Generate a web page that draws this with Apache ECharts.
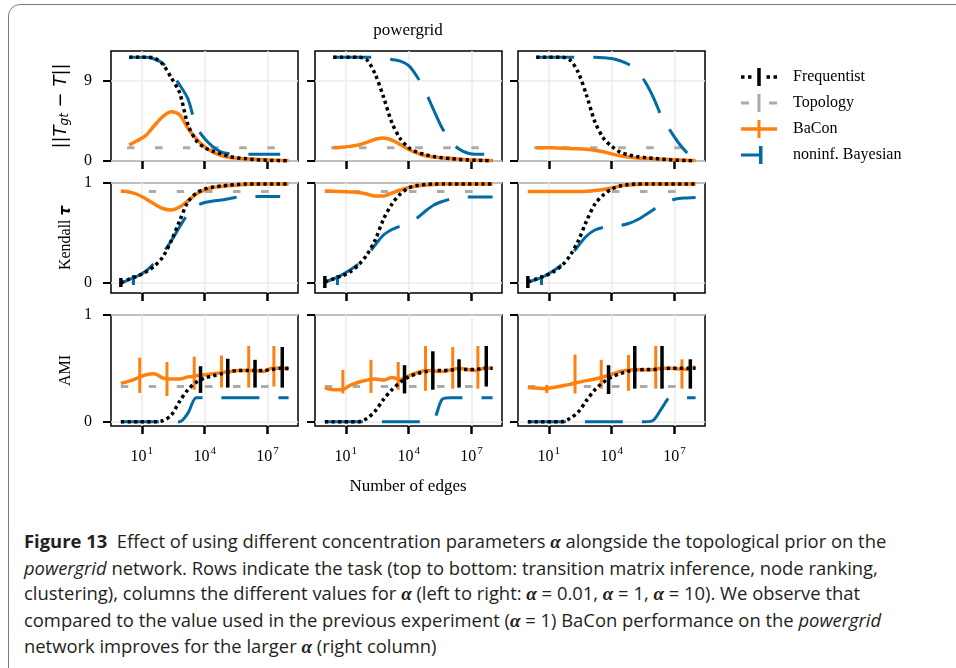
<!DOCTYPE html>
<html>
<head>
<meta charset="utf-8">
<script src="https://cdn.jsdelivr.net/npm/echarts@6/dist/echarts.min.js"></script>
<style>
html, body { margin: 0; padding: 0; background: #fff; width: 956px; height: 668px; overflow: hidden; }
#frame { position: absolute; left: 8px; top: 4px; width: 1000px; height: 700px; border: 1.5px solid #7a7a7a; border-radius: 12px; box-sizing: border-box; }
#chart { position: absolute; left: 0; top: 0; width: 956px; height: 505px; }
#caption { position: absolute; left: 24px; top: 528px; font-family: 'Open Sans', sans-serif; font-size: 18.4px; line-height: 25.6px; color: #231f20; white-space: nowrap; }
#caption .al { font-family: 'Liberation Serif', serif; font-style: italic; font-weight: bold; font-size: 19px; }
</style>
</head>
<body>
<div id="frame"></div>
<div id="chart"></div>
<div id="caption">
<b>Figure 13</b>&nbsp; Effect of using different concentration parameters <span class="al">α</span> alongside the topological prior on the<br>
<i>powergrid</i> network. Rows indicate the task (top to bottom: transition matrix inference, node ranking,<br>
clustering), columns the different values for <span class="al">α</span> (left to right: <span class="al">α</span> = 0.01, <span class="al">α</span> = 1, <span class="al">α</span> = 10). We observe that<br>
compared to the value used in the previous experiment (<span class="al">α</span> = 1) BaCon performance on the <i>powergrid</i><br>
network improves for the larger <span class="al">α</span> (right column)
</div>
<script>
// x = log10(number of edges)
var logEdges = [0, 0.4, 0.8, 1.2, 1.6, 2.0, 2.4, 2.8, 3.2, 3.6, 4.0, 4.4, 4.8, 5.2, 5.6, 6.0, 6.4, 6.8, 7.2, 7.6, 8.0];
var xTicks = [1, 4, 7];

// row 1: ||T_gt - T||, one list per alpha column (0.01, 1, 10)
var tFreq = [
    [null, 11.7, 11.7, 11.7, 11.6, 10.9, 9.4, 7.7, 4.1, 2.3, 1.5, 1.1, 0.8, 0.5, 0.35, 0.25, 0.15, 0.1, 0.06, 0.04, 0.03],
    [null, 11.7, 11.7, 11.7, 11.7, 11.4, 9.8, 7.2, 4.3, 2.5, 1.5, 1.0, 0.72, 0.5, 0.37, 0.27, 0.18, 0.12, 0.08, 0.05, 0.03],
    [null, 11.7, 11.7, 11.7, 11.7, 11.4, 10.0, 7.4, 4.4, 2.6, 1.65, 1.0, 0.7, 0.5, 0.38, 0.3, 0.2, 0.13, 0.08, 0.05, 0.03]
];
var tBayes = [
    [null, 11.7, 11.7, 11.7, 11.5, 11.0, 9.9, 8.6, 7.0, 3.9, 2.5, 1.6, 1.0, 0.8, 0.75, 0.75, 0.75, 0.75, 0.75, 0.75, null],
    [null, 11.7, 11.7, 11.7, 11.7, 11.7, 11.7, 11.6, 11.45, 11.25, 10.75, 9.5, 7.8, 5.7, 3.7, 2.2, 1.35, 0.9, 0.75, 0.75, null],
    [null, 11.7, 11.7, 11.7, 11.7, 11.7, 11.7, 11.7, 11.7, 11.65, 11.55, 11.3, 10.9, 10.2, 8.9, 7.1, 4.9, 3.4, 2.0, 0.9, null]
];
var tBaCon = [
    [null, 1.8, 2.3, 2.9, 4.0, 5.0, 5.55, 5.2, 3.7, 2.5, 1.6, 1.0, 0.6, 0.4, 0.3, 0.25, 0.2, 0.15, 0.1, 0.07, 0.05],
    [null, 1.5, 1.55, 1.65, 1.8, 2.1, 2.45, 2.6, 2.35, 1.85, 1.3, 0.9, 0.6, 0.45, 0.35, 0.3, 0.22, 0.15, 0.1, 0.07, 0.05],
    [null, 1.5, 1.5, 1.48, 1.45, 1.42, 1.38, 1.32, 1.22, 1.05, 0.8, 0.6, 0.45, 0.35, 0.3, 0.25, 0.21, 0.17, 0.12, 0.08, 0.05]
];

// row 2: Kendall tau
var kFreq = [
    [0.0, 0.04, 0.07, 0.11, 0.17, 0.26, 0.42, 0.62, 0.81, 0.9, 0.94, 0.96, 0.97, 0.98, 0.985, 0.99, 0.99, 0.99, 0.99, 0.99, 0.99],
    [0.01, 0.04, 0.07, 0.11, 0.18, 0.28, 0.43, 0.64, 0.79, 0.89, 0.95, 0.975, 0.985, 0.99, 0.99, 0.99, 0.99, 0.99, 0.99, 0.99, 0.99],
    [0.01, 0.04, 0.07, 0.11, 0.17, 0.27, 0.42, 0.62, 0.79, 0.88, 0.94, 0.97, 0.985, 0.99, 0.99, 0.99, 0.99, 0.99, 0.99, 0.99, 0.99]
];
var kBayes = [
    [0.0, 0.035, 0.07, 0.12, 0.2, 0.3, 0.42, 0.56, 0.69, 0.77, 0.805, 0.82, 0.83, 0.845, 0.86, 0.865, 0.865, 0.865, 0.865, 0.865, null],
    [0.01, 0.04, 0.08, 0.13, 0.19, 0.27, 0.38, 0.48, 0.535, 0.57, 0.6, 0.65, 0.72, 0.78, 0.815, 0.84, 0.85, 0.86, 0.86, 0.86, 0.86],
    [0.01, 0.035, 0.07, 0.12, 0.18, 0.26, 0.37, 0.47, 0.53, 0.555, 0.565, 0.575, 0.595, 0.63, 0.68, 0.735, 0.79, 0.825, 0.845, 0.85, 0.855]
];
var kBaCon = [
    [0.92, 0.91, 0.885, 0.84, 0.79, 0.745, 0.73, 0.76, 0.82, 0.89, 0.93, 0.955, 0.965, 0.975, 0.98, 0.985, 0.99, 0.99, 0.99, 0.99, 0.99],
    [0.92, 0.918, 0.915, 0.91, 0.905, 0.89, 0.87, 0.87, 0.9, 0.93, 0.955, 0.97, 0.98, 0.985, 0.99, 0.99, 0.99, 0.99, 0.99, 0.99, 0.99],
    [0.915, 0.915, 0.915, 0.915, 0.915, 0.915, 0.915, 0.918, 0.925, 0.935, 0.95, 0.97, 0.98, 0.985, 0.99, 0.99, 0.99, 0.99, 0.99, 0.99, 0.99]
];

// row 3: AMI
var aFreq = [
    [0, 0, 0, 0, 0, 0.01, 0.06, 0.19, 0.3, 0.37, 0.41, 0.43, 0.45, 0.47, 0.48, 0.48, 0.48, 0.48, 0.49, 0.5, 0.5],
    [0, 0, 0, 0, 0, 0.03, 0.1, 0.21, 0.3, 0.37, 0.42, 0.45, 0.47, 0.48, 0.48, 0.485, 0.49, 0.49, 0.49, 0.5, 0.5],
    [0, 0, 0, 0, 0, 0.03, 0.09, 0.2, 0.3, 0.37, 0.42, 0.45, 0.475, 0.485, 0.49, 0.49, 0.495, 0.5, 0.5, 0.5, 0.5]
];
var aBayes = [
    [0, 0, 0, 0, 0, 0, 0, 0, 0.08, 0.225, 0.225, 0.225, 0.225, 0.225, 0.225, 0.225, 0.225, 0.225, 0.225, 0.225, 0.225],
    [0, 0, 0, 0, 0, 0, 0, 0, 0, 0, 0, 0, 0, 0.02, 0.21, 0.225, 0.225, 0.225, 0.225, 0.225, 0.225],
    [0, 0, 0, 0, 0, 0, 0, 0, 0, 0, 0, 0, 0, 0, 0, 0.015, 0.13, 0.225, 0.225, 0.225, 0.225]
];
var aBaCon = [
    [0.36, 0.38, 0.41, 0.44, 0.45, 0.41, 0.40, 0.40, 0.42, 0.43, 0.44, 0.45, 0.46, 0.47, 0.48, 0.48, 0.48, 0.47, 0.50, 0.50, 0.49],
    [0.32, 0.30, 0.30, 0.34, 0.37, 0.39, 0.40, 0.39, 0.415, 0.395, 0.43, 0.46, 0.48, 0.475, 0.47, 0.485, 0.50, 0.49, 0.48, 0.50, 0.50],
    [0.32, 0.315, 0.31, 0.32, 0.335, 0.35, 0.37, 0.385, 0.40, 0.42, 0.445, 0.47, 0.485, 0.49, 0.485, 0.49, 0.50, 0.50, 0.495, 0.49, 0.515]
];

// topology prior: flat level per row, from x start to x end
var topoLevel = [1.5, 0.915, 0.33];
var topoStart = [0.3, 0, 0];
var topoEnd = 8.0;

// error bars [x, low, high]
var errKFreq = [[[0, -0.04, 0.05]], [[0, -0.05, 0.07]], [[0, -0.05, 0.07]]];
var errKBayes = [[[0.6, -0.02, 0.08]], [[0.6, -0.02, 0.08]], [[0.65, -0.02, 0.08]]];
var errABaCon = [
    [[0.9, 0.27, 0.60], [2.2, 0.24, 0.56], [3.5, 0.30, 0.61], [4.8, 0.32, 0.62], [6.1, 0.32, 0.71], [7.3, 0.33, 0.71]],
    [[0.86, 0.265, 0.485], [2.2, 0.27, 0.58], [3.5, 0.30, 0.56], [4.8, 0.29, 0.71], [6.1, 0.31, 0.70], [7.3, 0.31, 0.71]],
    [[0.9, 0.27, 0.345], [2.25, 0.265, 0.63], [3.5, 0.31, 0.58], [4.8, 0.29, 0.625], [6.1, 0.31, 0.71], [7.35, 0.31, 0.585]]
];
var errAFreq = [
    [[3.8, 0.27, 0.52], [5.1, 0.32, 0.59], [6.4, 0.32, 0.58], [7.7, 0.32, 0.70]],
    [[3.8, 0.265, 0.53], [5.15, 0.30, 0.66], [6.4, 0.32, 0.585], [7.7, 0.33, 0.71]],
    [[3.85, 0.26, 0.53], [5.1, 0.31, 0.71], [6.4, 0.31, 0.71], [7.75, 0.31, 0.585]]
];

var C_FREQ = '#000000', C_TOPO = '#ababab', C_BACON = '#ff800e', C_BAYES = '#006ba4';
var SERIF = 'Liberation Serif';

var colLeft = [111, 315, 518];
var rowTop = [51, 183, 315];
var rowHeight = [110, 110, 111];
var yMin = [0, -0.1, -0.04];
var yMax = [12.4, 1, 1];
var yTicks = [[0, 9], [0, 1], [0, 1]];

function toPairs(vals) {
    var out = [];
    for (var i = 0; i < logEdges.length; i++) {
        if (vals[i] !== null) out.push([logEdges[i], vals[i]]);
    }
    return out;
}

function line(name, gi, data, color, width, dash, z) {
    return {
        name: name, type: 'line', xAxisIndex: gi, yAxisIndex: gi,
        data: data, symbol: 'none', showSymbol: false,
        smooth: 0.3, z: z, silent: true,
        itemStyle: { color: color },
        lineStyle: { color: color, width: width, type: dash, cap: 'butt' }
    };
}

function errorBars(name, gi, data, color, width, z) {
    return {
        name: name, type: 'custom', xAxisIndex: gi, yAxisIndex: gi,
        data: data, encode: { x: 0, y: [1, 2] }, z: z, silent: true,
        itemStyle: { color: color },
        renderItem: function (params, api) {
            var p1 = api.coord([api.value(0), api.value(1)]);
            var p2 = api.coord([api.value(0), api.value(2)]);
            return { type: 'line', shape: { x1: p1[0], y1: p1[1], x2: p2[0], y2: p2[1] },
                     style: { stroke: color, lineWidth: width } };
        }
    };
}

var rowFreq = [tFreq, kFreq, aFreq];
var rowBayes = [tBayes, kBayes, aBayes];
var rowBaCon = [tBaCon, kBaCon, aBaCon];

var grids = [], xAxes = [], yAxes = [], series = [];
var yNames = [
    '{n|||}{i|T}{s|gt}{n| − }{i|T}{n|||}',
    '{a|Kendall }{t|τ}',
    '{a|AMI}'
];
var nameRich = {
    n: { fontFamily: 'DejaVu Sans', fontSize: 18, color: '#000' },
    i: { fontFamily: 'DejaVu Sans', fontStyle: 'italic', fontSize: 18, color: '#000' },
    s: { fontFamily: 'DejaVu Sans', fontStyle: 'italic', fontSize: 12, color: '#000', padding: [8, 0, 0, 0] },
    a: { fontFamily: SERIF, fontSize: 16, color: '#000' },
    t: { fontFamily: 'DejaVu Sans', fontStyle: 'italic', fontWeight: 'bold', fontSize: 15, color: '#000' }
};

for (var r = 0; r < 3; r++) {
    for (var c = 0; c < 3; c++) {
        var gi = r * 3 + c;
        grids.push({ left: colLeft[c], top: rowTop[r], width: 187, height: rowHeight[r],
                     show: true, borderColor: '#000', borderWidth: 1.5, backgroundColor: 'transparent' });
        xAxes.push({
            type: 'value', gridIndex: gi, min: -0.47, max: 8.45,
            axisLine: { show: false, onZero: false },
            axisTick: { show: true, customValues: xTicks, length: 8, lineStyle: { color: '#000', width: 2.5 } },
            axisLabel: {
                show: r === 2, customValues: xTicks, margin: 20,
                formatter: function (v) { return '{b|10}{p|' + v + '}'; },
                rich: {
                    b: { fontFamily: SERIF, fontSize: 16, color: '#000' },
                    p: { fontFamily: SERIF, fontSize: 11, color: '#000', padding: [0, 0, 10, 1] }
                }
            },
            splitLine: { show: true, lineStyle: { color: '#ebebeb', width: 1.5 } }
        });
        yAxes.push({
            type: 'value', gridIndex: gi, min: yMin[r], max: yMax[r],
            axisLine: { show: false, onZero: false },
            axisTick: { show: true, customValues: yTicks[r], length: 8, lineStyle: { color: '#000', width: 2 } },
            axisLabel: { show: c === 0, customValues: yTicks[r], margin: 19, fontFamily: SERIF, fontSize: 16, color: '#000' },
            splitLine: { show: true, lineStyle: { color: '#ebebeb', width: 1.5 } },
            name: c === 0 ? yNames[r] : '',
            nameLocation: 'middle', nameRotate: 90, nameGap: r === 0 ? 40 : 37,
            nameTextStyle: { rich: nameRich }
        });

        series.push(line('Topology', gi, [[topoStart[r], topoLevel[r]], [topoEnd, topoLevel[r]]], C_TOPO, 3, [7.5, 20.5], 1));
        series.push(line('BaCon', gi, toPairs(rowBaCon[r][c]), C_BACON, 3.5, 'solid', 2));
        series.push(line('noninf. Bayesian', gi, toPairs(rowBayes[r][c]), C_BAYES, 3, [38, 19], 3));
        series.push(line('Frequentist', gi, toPairs(rowFreq[r][c]), C_FREQ, 3.5, [3.3, 3.3], 4));
    }
}
for (var k = 0; k < 3; k++) {
    series.push(errorBars('Frequentist', 3 + k, errKFreq[k], C_FREQ, 3.5, 4));
    series.push(errorBars('noninf. Bayesian', 3 + k, errKBayes[k], C_BAYES, 3, 3));
    series.push(errorBars('BaCon', 6 + k, errABaCon[k], C_BACON, 3, 2));
    series.push(errorBars('Frequentist', 6 + k, errAFreq[k], C_FREQ, 3.5, 4));
}

var chart = echarts.init(document.getElementById('chart'), null, { renderer: 'canvas' });
chart.setOption({
    animation: false,
    grid: grids,
    xAxis: xAxes,
    yAxis: yAxes,
    series: series,
    legend: {
        orient: 'vertical', left: 736, top: 63,
        itemWidth: 36, itemHeight: 18, itemGap: 8,
        selectedMode: false,
        itemStyle: { borderWidth: 0 },
        textStyle: { fontFamily: SERIF, fontSize: 16, color: '#000', padding: [0, 0, 0, 11] },
        data: [
            { name: 'Frequentist', icon: 'path://M0,7.25h3.5v3.5h-3.5z M7,7.25h3.5v3.5h-3.5z M16.25,0h3.5v18h-3.5z M25.5,7.25h3.5v3.5h-3.5z M32.5,7.25h3.5v3.5h-3.5z' },
            { name: 'Topology', icon: 'path://M0,7.5h8v3h-8z M16.5,0h3v18h-3z M28,7.5h8v3h-8z' },
            { name: 'BaCon', icon: 'path://M0,7.25h36v3.5h-36z M16.5,0h3v18h-3z' },
            { name: 'noninf. Bayesian', icon: 'path://M0,7.5h20v3h-20z M18,0h3.5v18h-3.5z M35.9,8.9h0.1v0.1h-0.1z' }
        ]
    },
    graphic: [
        { type: 'text', style: { text: 'powergrid', fontFamily: SERIF, fontSize: 17, fill: '#000', x: 408, y: 31, align: 'center', verticalAlign: 'middle' } },
        { type: 'text', style: { text: 'Number of edges', fontFamily: SERIF, fontSize: 17, fill: '#000', x: 408, y: 487, align: 'center', verticalAlign: 'middle' } }
    ]
});
</script>
</body>
</html>
